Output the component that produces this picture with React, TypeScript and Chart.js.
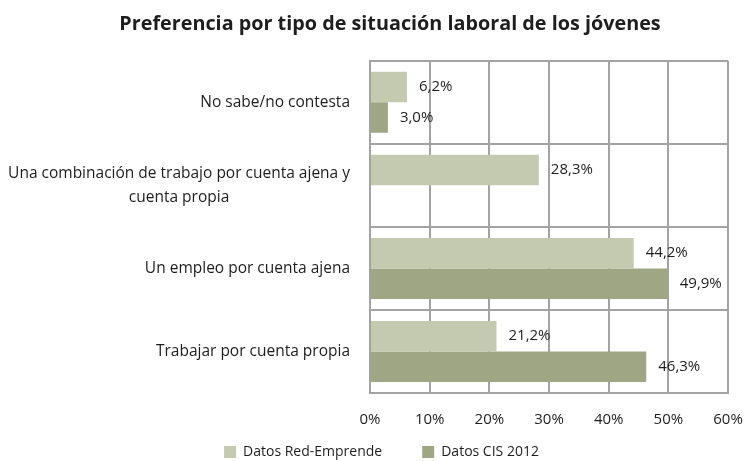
import React, { useEffect, useRef } from 'react';
import { Chart, registerables } from 'chart.js';

Chart.register(...registerables);

const titleText = 'Preferencia por tipo de situación laboral de los jóvenes';
const categories: string[][] = [
  ['No sabe/no contesta'],
  ['Una combinación de trabajo por cuenta ajena y', 'cuenta propia'],
  ['Un empleo por cuenta ajena'],
  ['Trabajar por cuenta propia'],
];
const seriesNames = ['Datos Red-Emprende', 'Datos CIS 2012'];
const redEmprende = [6.2, 28.3, 44.2, 21.2];
const cis2012: (number | null)[] = [3.0, null, 49.9, 46.3];
const xTicks = [0, 10, 20, 30, 40, 50, 60];

const FONT = '"Open Sans", "Noto Sans", sans-serif';
const TEXT = '#1e1e1e';
const GRID = '#a3a3a3';

const valueLabels = {
  id: 'valueLabels',
  afterDatasetsDraw(chart: any) {
    const ctx = chart.ctx;
    ctx.save();
    ctx.font = `15px ${FONT}`;
    ctx.fillStyle = TEXT;
    ctx.textAlign = 'left';
    ctx.textBaseline = 'middle';
    chart.data.datasets.forEach((ds: any, di: number) => {
      const meta = chart.getDatasetMeta(di);
      meta.data.forEach((el: any, i: number) => {
        const v = ds.data[i];
        if (v === null || v === undefined) return;
        ctx.fillText(v.toFixed(1).replace('.', ',') + '%', el.x + 12, el.y);
      });
    });
    ctx.restore();
  },
};

const categoryLabels = {
  id: 'categoryLabels',
  afterDraw(chart: any) {
    const ctx = chart.ctx;
    const yScale = chart.scales.y;
    const right = chart.chartArea.left - 20;
    const lineH = 24;
    ctx.save();
    ctx.font = `15.5px ${FONT}`;
    ctx.fillStyle = TEXT;
    ctx.textAlign = 'center';
    ctx.textBaseline = 'middle';
    categories.forEach((lines, i) => {
      const cy = yScale.getPixelForTick(i);
      const maxW = Math.max(...lines.map((l) => ctx.measureText(l).width));
      const cx = right - maxW / 2;
      const y0 = cy - ((lines.length - 1) * lineH) / 2;
      lines.forEach((l, k) => ctx.fillText(l, cx, y0 + k * lineH));
    });
    ctx.restore();
  },
};

// place the legend and title boxes so their contents are centred like the reference
const boxNudge = {
  id: 'boxNudge',
  afterLayout(chart: any) {
    const lg = chart.legend;
    if (lg) {
      lg.top = chart.height - 56;
      lg.bottom = chart.height + 2;
      lg.height = 58;
      lg.left = 0;
      lg.right = 763;
      lg.width = 763;
    }
    const tt = chart.titleBlock;
    if (tt) {
      tt.left = 0;
      tt.right = 780;
      tt.width = 780;
    }
  },
};

export default function App() {
  const ref = useRef<HTMLCanvasElement>(null);
  useEffect(() => {
    document.body.style.margin = '0';
    const chart = new Chart(ref.current!, {
      type: 'bar',
      data: {
        labels: categories.map((c) => c.join(' ')),
        datasets: [
          {
            label: seriesNames[0],
            data: redEmprende,
            backgroundColor: '#c4cab0',
            borderWidth: 0,
            categoryPercentage: 0.735,
            barPercentage: 1,
          },
          {
            label: seriesNames[1],
            data: cis2012,
            backgroundColor: '#9ea684',
            borderWidth: 0,
            categoryPercentage: 0.735,
            barPercentage: 1,
          },
        ],
      },
      options: {
        indexAxis: 'y',
        responsive: false,
        animation: false,
        layout: { padding: { left: 36, right: 0, top: 0, bottom: -16 } },
        plugins: {
          title: {
            display: true,
            text: titleText,
            color: TEXT,
            font: { family: FONT, size: 19.8, weight: 'bold' },
            padding: { top: 12, bottom: 25 },
          },
          legend: {
            position: 'bottom',
            maxHeight: 30,
            labels: {
              boxWidth: 12,
              boxHeight: 12,
              padding: 40,
              color: TEXT,
              font: { family: FONT, size: 14 },
            },
          },
          tooltip: { enabled: false },
        },
        scales: {
          x: {
            min: 0,
            max: 60,
            afterBuildTicks: (scale: any) => {
              scale.ticks = xTicks.map((v) => ({ value: v }));
            },
            afterFit: (scale: any) => {
              scale.paddingRight = 17;
              scale.paddingLeft = 0;
            },
            ticks: {
              callback: (v: any) => v + '%',
              color: TEXT,
              font: { family: FONT, size: 15 },
              padding: 18,
            },
            grid: { color: GRID, lineWidth: 2, drawTicks: false },
            border: { color: GRID, width: 2 },
          },
          y: {
            ticks: { display: false },
            grid: { color: GRID, lineWidth: 2, drawTicks: false, offset: true },
            border: { color: GRID, width: 2 },
            afterFit: (scale: any) => {
              scale.width = 334;
            },
          },
        },
      },
      plugins: [valueLabels, categoryLabels, boxNudge],
    });
    return () => chart.destroy();
  }, []);
  return (
    <div style={{ width: 745, height: 461, background: '#fff' }}>
      <canvas ref={ref} width={745} height={461} />
    </div>
  );
}
